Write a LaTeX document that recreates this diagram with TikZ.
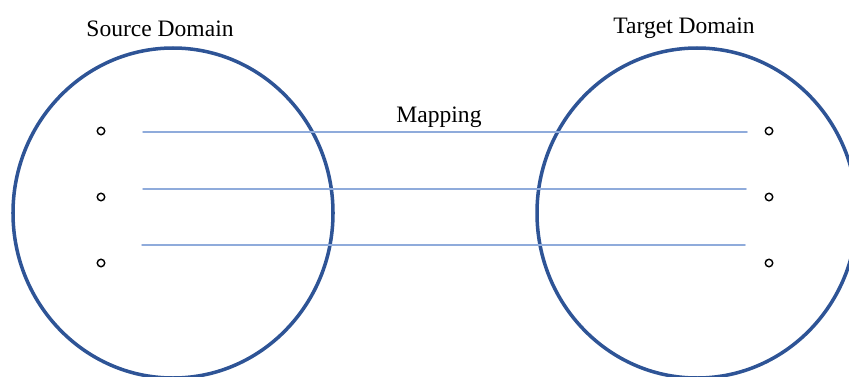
\documentclass[tikz,border=0pt]{standalone}
\usepackage{fontspec}
\setmainfont{Liberation Serif}
\usepackage{tkz-euclide}
\definecolor{ShapeClr}{rgb}{0.18,0.33,0.59}
\definecolor{MapClr}{rgb}{0.56,0.67,0.86}

\begin{document}
\begin{tikzpicture}[dot/.style={circle,draw=black,fill=white,line width=0.8pt,inner sep=0pt,minimum size=0.15cm},
  lbl/.style={font=\fontsize{13.4}{16}\selectfont,anchor=base}]
\useasboundingbox (0,0) rectangle (16.98,7.52);

\tkzDefPoints{3.46/3.26/O,13.94/3.26/OO}
\tkzDefPoints{2.86/4.88/A,14.94/4.88/AA,2.86/3.74/B,14.92/3.74/BB,2.84/2.62/C,14.90/2.62/CC}

\draw[ShapeClr,line width=2pt] (O) ellipse [x radius=3.2,y radius=3.30];
\draw[ShapeClr,line width=2pt] (OO) ellipse [x radius=3.2,y radius=3.30];

\tkzDrawSegments[color=MapClr,line width=0.85pt](A,AA B,BB C,CC)

\foreach \y/\n in {4.90/1,3.58/2,2.26/3}{
  \node[dot] (s\n) at (2.02,\y) {};
  \node[dot] (t\n) at (15.38,\y) {};
}

\node[lbl] (src) at (3.20,6.80) {Source Domain};
\node[lbl] (tgt) at (13.68,6.86) {Target Domain};
\node[lbl] (map) at (8.78,5.08) {Mapping};

\end{tikzpicture}
\end{document}
